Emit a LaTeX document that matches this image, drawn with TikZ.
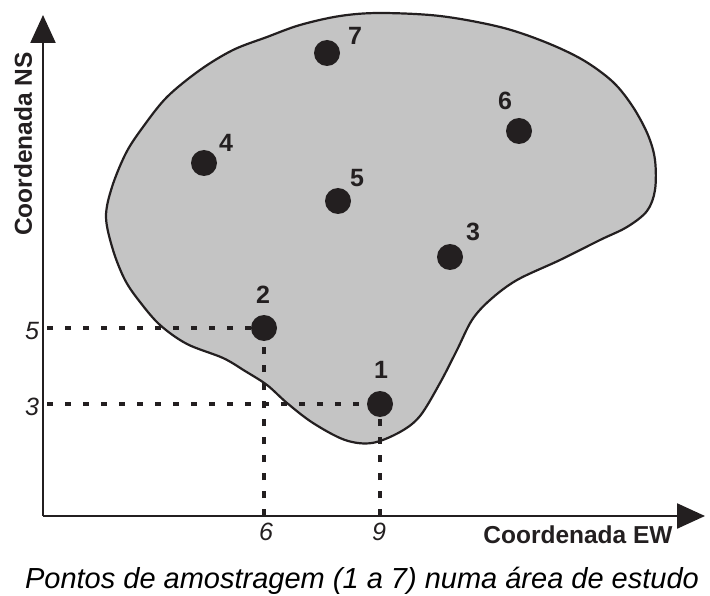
\documentclass[tikz,border=0pt]{standalone}
\usepackage{fontspec}
\setmainfont{Liberation Sans}
\usetikzlibrary{arrows.meta}
\definecolor{ink}{RGB}{35,31,32}
\definecolor{blobfill}{RGB}{196,196,196}
\tikzset{
  axisline/.style={draw=ink, line width=2.4pt, -{Triangle[length=28pt 0 0, width=25pt 0 0]}},
  blob/.style={draw=ink, fill=blobfill, line width=2.2pt},
  guide/.style={draw=ink, line width=3.8pt, dash pattern=on 6pt off 12pt},
  vguide/.style={draw=ink, line width=3.3pt, dash pattern=on 7pt off 11pt},
  dot/.style={circle, fill=ink, inner sep=0pt, minimum size=26pt},
  numlabel/.style={text=ink, inner sep=0pt, font=\fontsize{25}{30}\selectfont\bfseries},
  ticklabel/.style={text=ink, inner sep=0pt, font=\fontsize{25}{30}\selectfont\itshape},
  axislabel/.style={text=ink, inner sep=0pt, font=\fontsize{24.5}{29}\selectfont\bfseries},
  caption/.style={text=black, inner sep=0pt, font=\fontsize{29}{34}\selectfont\itshape}
}
\begin{document}
\begin{tikzpicture}[x=1pt,y=-1pt]
\path[use as bounding box] (0,0) rectangle (710,596);
% study area
\path[blob] plot[smooth cycle, tension=0.55] coordinates {
 (380,13) (440,16) (500,27) (545,42) (583,60) (613,82) (633,107) (648,135)
 (655,160) (655,190) (647,211) (627,227) (600,240) (560,260) (517,280)
 (490,300) (472,320) (457,350) (440,383) (420,416) (400,432) (372,443)
 (345,440) (313,423) (287,403) (267,385) (245,371) (223,358) (187,344)
 (160,325) (140,302) (125,280) (113,250) (106,217) (112,187) (126,153)
 (143,127) (167,97) (200,70) (233,50) (267,37) (300,25) (340,16)};
% axes
\coordinate (O) at (43,516);
\coordinate (ytip) at (43,15);
\coordinate (xtip) at (705,516);
\draw[axisline] (O) -- (ytip);
\draw[axisline] (O) -- (xtip);
% sample point centres
\coordinate (c1) at (380,404);
\coordinate (c2) at (264,328);
\coordinate (c3) at (450,257);
\coordinate (c4) at (204,163);
\coordinate (c5) at (338,201);
\coordinate (c6) at (519,131);
\coordinate (c7) at (327,53);
% guide lines
\coordinate (h5) at (47,328);
\coordinate (h3) at (47,404);
\coordinate (v6) at (264,516);
\coordinate (v9) at (380,516);
\draw[guide] (h5) -- (c2);
\draw[guide] (h3) -- (c1);
\draw[vguide] (v6) -- (c2);
\draw[vguide] (v9) -- (c1);
% dots
\foreach \i in {1,...,7} { \node[dot] (p\i) at (c\i) {}; }
% point labels
\node[numlabel] (l1) at (381,370) {1};
\node[numlabel] (l2) at (263,295) {2};
\node[numlabel] (l3) at (473,232) {3};
\node[numlabel] (l4) at (226,143) {4};
\node[numlabel] (l5) at (357,178) {5};
\node[numlabel] (l6) at (505,101) {6};
\node[numlabel] (l7) at (355,36) {7};
% tick labels
\node[ticklabel] (t5) at (32,331) {5};
\node[ticklabel] (t3) at (32,407) {3};
\node[ticklabel] (t6) at (266,532) {6};
\node[ticklabel] (t9) at (379,532) {9};
% axis labels
\node[axislabel, rotate=90] (ns) at (23,144) {Coordenada NS};
\node[axislabel, anchor=base] (ew) at (578,543) {Coordenada EW};
% caption
\node[caption, anchor=base] (cap) at (362,588) {Pontos de amostragem (1 a 7) numa área de estudo};
\end{tikzpicture}
\end{document}
